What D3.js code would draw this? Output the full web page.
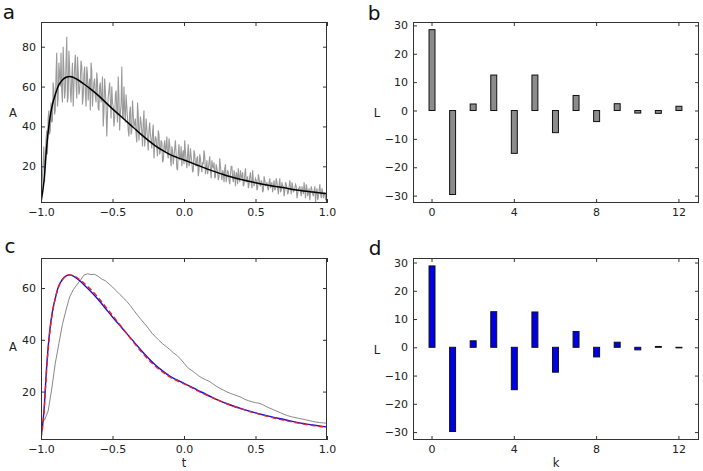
<!DOCTYPE html>
<html><head><meta charset="utf-8">
<script src="https://cdn.jsdelivr.net/npm/d3@7"></script>
<style>body{margin:0;background:#fff}svg{display:block}text{font-family:"DejaVu Sans",sans-serif}</style>
</head><body><svg id="chart" width="703" height="471"></svg>
<script>
// ---------- DATA ----------
// panel a: noisy measured amplitude, sampled every 0.01 from t=-1 to t=1
const noisyA = [
  2, 15, 30, 24, 38, 44, 36, 52, 43, 58,
  48, 77, 54, 66, 77, 52, 68, 58, 85, 55, 70,
  52, 72, 60, 76, 54, 68, 58, 73, 51, 66,
  57, 70, 53, 64, 72, 50, 62, 55, 67, 49,
  60, 52, 65, 47, 58, 35, 55, 62, 44, 52,
  40, 56, 48, 65, 38, 51, 45, 60, 42, 50,
  38, 47, 36, 53, 40, 44, 32, 46, 38, 42,
  30, 48, 35, 39, 28, 42, 33, 37, 24, 35,
  29, 38, 26, 33, 22, 30, 27, 35, 24, 31,
  20, 28, 25, 33, 19, 27, 23, 30, 26, 21,
  27, 19, 31, 22, 25, 17, 28, 21, 24, 15,
  26, 20, 22, 28, 16, 23, 19, 25, 14, 20,
  22, 15, 19, 13, 24, 16, 18, 12, 21, 15,
  17, 11, 20, 14, 18, 10, 16, 19, 12, 15,
  17, 11, 19, 13, 9, 15, 12, 18, 10, 14,
  8, 16, 11, 13, 7, 15, 10, 12, 8, 14,
  11, 7, 13, 9, 12, 6, 14, 8, 10, 5,
  12, 9, 7, 13, 6, 10, 8, 11, 4, 9,
  10, 5, 8, 12, 4, 9, 7, 3, 10, 6,
  8, 2, 9, 5, 11, 4, 7, 6, 3, 8
];
// panel a: the in-between samples, at t = -0.995, -0.985, ... 0.995
const noisyAMid = [
  6, 22, 12, 33, 26, 48, 38, 42, 62, 46,
  66, 50, 72, 60, 58, 80, 54, 72, 52, 78,
  58, 64, 50, 70, 62, 75, 56, 64, 70, 55,
  70, 50, 66, 60, 48, 68, 57, 64, 52, 62,
  48, 62, 55, 40, 64, 50, 46, 58, 53, 60,
  50, 44, 58, 42, 55, 47, 70, 44, 48, 56,
  44, 35, 50, 38, 46, 41, 36, 52, 33, 45,
  37, 42, 30, 44, 33, 38, 36, 29, 41, 31,
  34, 25, 36, 28, 32, 23, 33, 29, 26, 34,
  24, 30, 21, 29, 26, 18, 31, 24, 20, 28,
  33, 23, 26, 20, 29, 22, 18, 26, 20, 25,
  18, 24, 17, 21, 25, 19, 16, 22, 18, 23,
  19, 14, 21, 17, 15, 20, 13, 17, 19, 12,
  18, 13, 16, 20, 12, 15, 17, 11, 14, 18,
  14, 10, 16, 12, 15, 11, 17, 9, 13, 12,
  13, 9, 14, 10, 12, 8, 13, 11, 9, 12,
  9, 12, 10, 8, 14, 9, 11, 7, 12, 10,
  8, 11, 6, 10, 9, 12, 7, 9, 10, 6,
  9, 7, 10, 6, 8, 11, 5, 9, 7, 8,
  5, 10, 7, 3, 8, 6, 9, 4, 7, 5
];
// fitted model curve (black in a, blue in c) and second model (red dashed in c)
const tFit = [-1.0,-0.98,-0.96,-0.94,-0.92,-0.90,-0.88,-0.86,-0.84,-0.82,-0.80,-0.78,-0.76,-0.74,-0.70,-0.65,-0.60,-0.55,-0.50,-0.45,-0.40,-0.35,-0.30,-0.25,-0.20,-0.15,-0.10,-0.05,0.00,0.10,0.20,0.30,0.40,0.50,0.60,0.70,0.80,0.90,1.00];
const fitBlue = [2,12,30,43,51,56,60.2,62.5,64,64.8,65.1,64.8,64.1,63.3,61.3,58.6,55.6,52.2,48.8,45.6,42.4,39.2,36.0,33.0,30.3,28.0,26.0,24.5,23.2,20.4,17.7,15.3,13.4,11.8,10.4,9.2,8.0,7.1,6.3];
const fitRed  = [2,11,29,42,50.5,56,60,62.5,64,64.9,65.1,64.9,64.4,63.7,61.9,59.3,56.3,52.9,49.4,45.9,42.4,38.8,35.5,32.4,29.8,27.6,25.7,24.2,23.0,20.2,17.6,15.3,13.3,11.7,10.2,8.9,7.8,6.9,6.1];
// panel c: smoothed, delayed data (gray), sampled every 0.025
const grayC = [
  7.8, 9.0, 12.5, 21, 31, 38.5, 46, 51.5, 56.5, 59.3,
  61.2, 63, 65, 65.5, 65.2, 65.3, 64.5, 63.5, 62.8, 61.6,
  60.4, 59, 57.6, 56.3, 54.8, 53.2, 51.3, 49.5, 47.8, 46.2,
  44.5, 42.6, 41.2, 39.8, 38.5, 37.4, 36.3, 35, 34, 32.6,
  31.0, 29.3, 28.3, 27.3, 26.2, 25.3, 24.6, 24.0, 23.1, 22.1,
  21.3, 20.6, 19.9, 19.3, 18.8, 18.3, 17.8, 17.0, 16.5, 16.1,
  15.7, 15.5, 15.0, 14.2, 13.6, 13.0, 12.4, 11.8, 11.2, 10.7,
  10.3, 10.0, 9.7, 9.4, 9.1, 8.8, 8.5, 8.2, 8.0, 7.9, 7.8
];
// panels b, d: coefficients L_k
const kIdx = [0,1,2,3,4,5,6,7,8,9,10,11,12];
const coefB = [28.5,-29.6,2.3,12.5,-15.1,12.5,-7.8,5.3,-3.9,2.4,-0.9,-1.0,1.5];
const coefD = [28.8,-29.8,2.3,12.6,-15.0,12.5,-8.8,5.6,-3.4,1.8,-0.9,0.3,-0.2];
// tick labels
const tTicks = [-1.0,-0.5,0.0,0.5,1.0];
const aTicksA = [20,40,60,80];
const aTicksC = [20,40,60];
const kTicks = [0,4,8,12];
const lTicks = [-30,-20,-10,0,10,20,30];

// ---------- DRAW ----------
const svg = d3.select("#chart");
const TXT = "#222", FRAME = "#333";
let clipId = 0;

function panel(o) {
  const x = d3.scaleLinear().domain(o.xd).range([o.l, o.r]);
  const y = d3.scaleLinear().domain(o.yd).range([o.b, o.t]);
  const id = "clip" + (clipId++);
  svg.append("clipPath").attr("id", id).append("rect")
    .attr("x", o.l).attr("y", o.t).attr("width", o.r - o.l).attr("height", o.b - o.t);
  const g = svg.append("g").attr("clip-path", `url(#${id})`);
  return {x, y, g, o};
}

function axes(p) {
  const {x, y, o} = p;
  const style = sel => {
    sel.select(".domain").remove();
    sel.selectAll(".tick line").attr("stroke", FRAME);
    sel.selectAll(".tick text").attr("fill", TXT).style("font-size", "11px").style("font-family", '"DejaVu Sans",sans-serif');
  };
  svg.append("g").attr("transform", `translate(0,${o.b})`)
    .call(d3.axisBottom(x).tickValues(o.xt).tickFormat(o.xf).tickSizeInner(-4).tickSizeOuter(0).tickPadding(5)).call(style);
  svg.append("g").attr("transform", `translate(0,${o.t})`)
    .call(d3.axisTop(x).tickValues(o.xt).tickFormat("").tickSizeInner(-4).tickSizeOuter(0)).call(style);
  svg.append("g").attr("transform", `translate(${o.l},0)`)
    .call(d3.axisLeft(y).tickValues(o.yt).tickFormat(o.yf).tickSizeInner(-4).tickSizeOuter(0).tickPadding(5)).call(style);
  svg.append("g").attr("transform", `translate(${o.r},0)`)
    .call(d3.axisRight(y).tickValues(o.yt).tickFormat("").tickSizeInner(-4).tickSizeOuter(0)).call(style);
  svg.append("rect").attr("x", o.l + 0.5).attr("y", o.t + 0.5)
    .attr("width", o.r - o.l - 1).attr("height", o.b - o.t - 1)
    .attr("fill", "none").attr("stroke", FRAME).attr("stroke-width", 1);
  svg.append("text").attr("x", o.ylx).attr("y", o.yly).attr("text-anchor", "middle")
    .attr("dominant-baseline", "central").attr("fill", TXT).style("font-size", "11.5px").text(o.ylab);
  if (o.xlab) svg.append("text").attr("x", (o.l + o.r) / 2).attr("y", o.xly).attr("text-anchor", "middle")
    .attr("dominant-baseline", "central").attr("fill", TXT).style("font-size", "11.5px").text(o.xlab);
  svg.append("text").attr("x", o.px).attr("y", o.py).attr("text-anchor", "middle")
    .attr("fill", "#111").style("font-size", "20px").style("font-weight", "normal")
    .style("font-family", '"DejaVu Sans",sans-serif').text(o.letter);
}

const fmtT = d3.format(".1f"), fmtI = d3.format("d");

// ---- panel a ----
const pa = panel({l: 41, r: 327, t: 22, b: 203, xd: [-1, 1], yd: [1.6, 92.4]});
const noisyPts = noisyA.map((v, i) => [-1 + i * 0.01, v])
  .concat(noisyAMid.map((v, i) => [-0.995 + i * 0.01, v]))
  .sort((a, b) => a[0] - b[0]);
pa.g.append("path").datum(noisyPts)
  .attr("fill", "none").attr("stroke", "#9a9a9a").attr("stroke-width", 1.1)
  .attr("d", d3.line().x(d => pa.x(d[0])).y(d => pa.y(d[1])));
pa.g.append("path").datum(fitBlue.map((v, i) => [tFit[i], v]))
  .attr("fill", "none").attr("stroke", "#000").attr("stroke-width", 1.5)
  .attr("d", d3.line().curve(d3.curveMonotoneX).x(d => pa.x(d[0])).y(d => pa.y(d[1])));
axes(Object.assign(pa, {o: Object.assign(pa.o, {xt: tTicks, xf: fmtT, yt: aTicksA, yf: fmtI, ylab: "A", ylx: 13, yly: 113, letter: "a", px: 9, py: 19})}));

// ---- panel c ----
const pc = panel({l: 41, r: 327, t: 258, b: 440, xd: [-1, 1], yd: [1.3, 71.6]});
const tGray = d3.range(grayC.length).map(i => -1 + i * 0.025);
pc.g.append("path").datum(grayC.map((v, i) => [tGray[i], v]))
  .attr("fill", "none").attr("stroke", "#888").attr("stroke-width", 1)
  .attr("d", d3.line().x(d => pc.x(d[0])).y(d => pc.y(d[1])));
pc.g.append("path").datum(fitBlue.map((v, i) => [tFit[i], v]))
  .attr("fill", "none").attr("stroke", "#1010e0").attr("stroke-width", 1.4)
  .attr("d", d3.line().curve(d3.curveMonotoneX).x(d => pc.x(d[0])).y(d => pc.y(d[1])));
pc.g.append("path").datum(fitRed.map((v, i) => [tFit[i], v]))
  .attr("fill", "none").attr("stroke", "#f02020").attr("stroke-width", 1.4).attr("stroke-dasharray", "5,3")
  .attr("d", d3.line().curve(d3.curveMonotoneX).x(d => pc.x(d[0])).y(d => pc.y(d[1])));
axes(Object.assign(pc, {o: Object.assign(pc.o, {xt: tTicks, xf: fmtT, yt: aTicksC, yf: fmtI, ylab: "A", ylx: 13, yly: 347, xlab: "t", xly: 463, letter: "c", px: 10, py: 253})}));

// ---- bars ----
function bars(p, vals, fill) {
  const w = p.x(0.29) - p.x(0);
  p.g.selectAll("rect.bar").data(kIdx).join("rect").attr("class", "bar")
    .attr("x", k => p.x(k) - w / 2 + 0.5)
    .attr("y", (k, i) => p.y(Math.max(0, vals[i])))
    .attr("width", w)
    .attr("height", (k, i) => Math.abs(p.y(vals[i]) - p.y(0)))
    .attr("fill", fill).attr("stroke", "#111").attr("stroke-width", 1);
}
const pb = panel({l: 413, r: 699, t: 22, b: 203, xd: [-0.9, 13], yd: [-32.6, 31.2]});
bars(pb, coefB, "#8c8c8c");
axes(Object.assign(pb, {o: Object.assign(pb.o, {xt: kTicks, xf: fmtI, yt: lTicks, yf: fmtI, ylab: "L", ylx: 377, yly: 113, letter: "b", px: 374, py: 20})}));

const pd = panel({l: 413, r: 699, t: 258, b: 440, xd: [-0.9, 13], yd: [-32.8, 31.6]});
bars(pd, coefD, "#0000e6");
axes(Object.assign(pd, {o: Object.assign(pd.o, {xt: kTicks, xf: fmtI, yt: lTicks, yf: fmtI, ylab: "L", ylx: 377, yly: 350, xlab: "k", xly: 463, letter: "d", px: 375, py: 255})}));
</script></body></html>
